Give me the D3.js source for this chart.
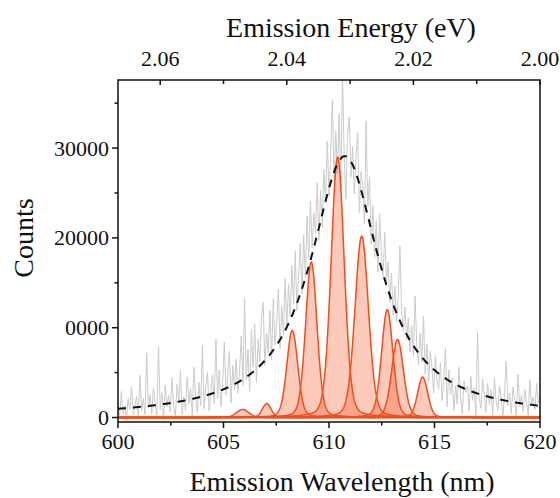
<!DOCTYPE html>
<html>
<head>
<meta charset="utf-8">
<script src="https://cdn.jsdelivr.net/npm/d3@7/dist/d3.min.js"></script>
<style>
  html, body { margin: 0; padding: 0; background: #fff; }
  svg { display: block; }
  text { font-family: "Times New Roman", "Liberation Serif", serif; fill: #111; }
</style>
</head>
<body>
<svg id="chart" width="560" height="498"></svg>
<script>
// Measured spectrum: counts sampled every 0.08 nm from 600 nm to 620 nm
const sampleStart = 600;
const sampleStep = 0.08;
const counts = [
  1600, 200, 2900, 400, 1300, -300, 2100, 900, 3400, 300,
  1200, 2400, 100, 4700, 800, 2100, 300, 7200, 1100, 2600,
  400, 3300, 1500, 200, 7900, 900, 2800, -200, 3600, 1200,
  2500, 600, 4400, 1000, 200, 3700, 1800, 5200, 300, 2300,
  800, 4500, 1500, 3300, 100, 5600, 2200, 600, 3900, 1300,
  8000, 1000, 3400, 5100, 700, 2800, 4800, 1500, 8700, 2100,
  5300, 1200, 3900, 8400, 2500, 4700, 7400, 1600, 5800, 3100,
  6500, 2700, 5100, 9100, 3600, 13300, 4200, 7600, 2900, 9800,
  5600, 10400, 3900, 8700, 6200, 11100, 12800, 5800, 9400, 7200,
  11900, 6400, 13200, 8100, 10600, 14300, 7700, 12400, 9200, 15500,
  10300, 14800, 11200, 16900, 12600, 18500, 11900, 15800, 19400, 13800,
  20300, 15600, 22400, 17800, 24100, 18900, 22800, 20500, 26100, 19700,
  25300, 21200, 27600, 23900, 30800, 24700, 29500, 35400, 26300, 31900,
  27200, 33800, 25600, 38500, 28900, 24300, 31400, 33500, 26800, 30200,
  24900, 29100, 31700, 22800, 27400, 25900, 21600, 33000, 23500, 26800,
  19300, 23600, 17800, 21900, 16200, 22700, 18400, 15700, 20600, 14900,
  17300, 12800, 16100, 11400, 14600, 10700, 13300, 19100, 12000, 9600,
  12300, 8600, 11100, 7300, 10200, 6800, 13500, 8100, 5900, 9400,
  6200, 11300, 4800, 8200, 3900, 7400, 5600, 2700, 6900, 4100,
  3200, 6100, 1900, 4300, 7700, 1200, 5300, 2600, 4400, 800,
  3600, 1500, 5600, 2300, 400, 4100, 2800, 3500, 700, 4600,
  1900, 3300, 200, 9600, 2200, 1000, 4300, 2600, 600, 3800,
  1400, 3100, 200, 4400, 1800, 800, 3500, 2300, -100, 2900,
  6300, 1300, 2700, 400, 3400, 1900, 100, 4800, 1200, 2500,
  600, 3100, 1700, 200, 4200, 1400, 2300, 900, 3800, 1600, 2400
];

// Single Lorentzian envelope fit (dashed)
const envelopeCenter = 610.75;
const envelopeHeight = 29100;
const envelopeHalfWidth = 2.0;

// Individual pseudo-Voigt components of the fine structure
const peakCenters = [605.91, 607.05, 608.26, 609.16, 610.41, 611.55, 612.76, 613.25, 614.44];
const peakHeights = [900, 1550, 9700, 17300, 29000, 20200, 12000, 8700, 4500];
const peakSigmas  = [0.29, 0.21, 0.26, 0.27, 0.31, 0.32, 0.27, 0.28, 0.24];
const lorentzFraction = 0.2;

// Axis ticks
const xTicks = [600, 605, 610, 615, 620];
const xMinorTicks = [602.5, 607.5, 612.5, 617.5];
const yTicks = [0, 10000, 20000, 30000];
const yTickLabels = ["0", "0000", "20000", "30000"];
const yMinorTicks = [5000, 15000, 25000, 35000];
const eTicks = [2.06, 2.04, 2.02, 2.00];
const eMinorTicks = [2.05, 2.03, 2.01];

const xTitle = "Emission Wavelength (nm)";
const yTitle = "Counts";
const topTitle = "Emission Energy (eV)";

const svg = d3.select("#chart");
const margin = { left: 118, right: 20, top: 80, bottom: 76 };
const W = 560, H = 498;
const plotW = W - margin.left - margin.right;
const plotH = H - margin.top - margin.bottom;

const x = d3.scaleLinear().domain([600, 620]).range([margin.left, margin.left + plotW]);
const y = d3.scaleLinear().domain([-500, 37580]).range([margin.top + plotH, margin.top]);
const e = d3.scaleLinear().domain([1240 / 600, 1240 / 620]).range([margin.left, margin.left + plotW]);

svg.append("defs").append("clipPath").attr("id", "plot-clip")
  .append("rect")
  .attr("x", margin.left).attr("y", margin.top)
  .attr("width", plotW).attr("height", plotH);

const plot = svg.append("g").attr("clip-path", "url(#plot-clip)");

// Raw spectrum
const spectrum = counts.map((c, i) => ({ wl: sampleStart + i * sampleStep, c }));
plot.append("path")
  .datum(spectrum)
  .attr("fill", "none")
  .attr("stroke", "#cbcbcb")
  .attr("stroke-width", 1)
  .attr("d", d3.line().x(d => x(d.wl)).y(d => y(d.c)));

// Fitted components
function pseudoVoigt(wl, c, h, s) {
  const g = Math.exp(-((wl - c) ** 2) / (2 * s * s));
  const gamma = 1.1774 * s;
  const l = 1 / (1 + ((wl - c) / gamma) ** 2);
  return h * ((1 - lorentzFraction) * g + lorentzFraction * l);
}
const grid = d3.range(600, 620.0001, 0.02);
const area = d3.area().x(d => x(d[0])).y0(y(0)).y1(d => y(d[1]));
const line = d3.line().x(d => x(d[0])).y(d => y(d[1]));

const comps = peakCenters.map((c, k) =>
  grid.map(wl => [wl, pseudoVoigt(wl, c, peakHeights[k], peakSigmas[k])]));

plot.selectAll("path.fill").data(comps).join("path")
  .attr("class", "fill")
  .attr("fill", "#f4511e")
  .attr("fill-opacity", 0.3)
  .attr("d", area);

plot.selectAll("path.comp").data(comps).join("path")
  .attr("class", "comp")
  .attr("fill", "none")
  .attr("stroke", "#f04e1a")
  .attr("stroke-width", 1.5)
  .attr("d", line);

// Envelope fit
const envelope = grid.map(wl => [wl,
  envelopeHeight / (1 + ((wl - envelopeCenter) / envelopeHalfWidth) ** 2)]);
plot.append("path")
  .datum(envelope)
  .attr("fill", "none")
  .attr("stroke", "#111")
  .attr("stroke-width", 2)
  .attr("stroke-dasharray", "8,7")
  .attr("d", line);

// Frame
svg.append("rect")
  .attr("x", margin.left).attr("y", margin.top)
  .attr("width", plotW).attr("height", plotH)
  .attr("fill", "none").attr("stroke", "#111").attr("stroke-width", 1.5);

const axisG = svg.append("g").attr("stroke", "#111").attr("stroke-width", 1.5);
const yb = margin.top + plotH;

// Bottom ticks (outward)
axisG.selectAll("line.xt").data(xTicks).join("line")
  .attr("x1", d => x(d)).attr("x2", d => x(d)).attr("y1", yb).attr("y2", yb + 6);
axisG.selectAll("line.xm").data(xMinorTicks).join("line")
  .attr("x1", d => x(d)).attr("x2", d => x(d)).attr("y1", yb).attr("y2", yb + 3.5);
// Left ticks (outward)
axisG.selectAll("line.yt").data(yTicks).join("line")
  .attr("x1", margin.left - 6).attr("x2", margin.left).attr("y1", d => y(d)).attr("y2", d => y(d));
axisG.selectAll("line.ym").data(yMinorTicks).join("line")
  .attr("x1", margin.left - 3.5).attr("x2", margin.left).attr("y1", d => y(d)).attr("y2", d => y(d));
// Top ticks (inward)
axisG.selectAll("line.et").data(eTicks).join("line")
  .attr("x1", d => e(d)).attr("x2", d => e(d)).attr("y1", margin.top).attr("y2", margin.top + 5);
axisG.selectAll("line.em").data(eMinorTicks).join("line")
  .attr("x1", d => e(d)).attr("x2", d => e(d)).attr("y1", margin.top).attr("y2", margin.top + 4);

// Tick labels
svg.selectAll("text.xl").data(xTicks).join("text")
  .attr("x", d => x(d)).attr("y", yb + 27)
  .attr("text-anchor", "middle").attr("font-size", 22)
  .text(d => d);
svg.selectAll("text.yl").data(yTicks).join("text")
  .attr("x", margin.left - 9).attr("y", d => y(d) + 7.5)
  .attr("text-anchor", "end").attr("font-size", 22)
  .text((d, i) => yTickLabels[i]);
svg.selectAll("text.el").data(eTicks).join("text")
  .attr("x", d => e(d)).attr("y", margin.top - 14)
  .attr("text-anchor", "middle").attr("font-size", 22)
  .text(d => d3.format(".2f")(d));

// Titles
svg.append("text")
  .attr("x", 342).attr("y", 491)
  .attr("text-anchor", "middle").attr("font-size", 28)
  .text(xTitle);
svg.append("text")
  .attr("x", 351).attr("y", 37)
  .attr("text-anchor", "middle").attr("font-size", 28)
  .text(topTitle);
svg.append("text")
  .attr("transform", "translate(33,238) rotate(-90)")
  .attr("text-anchor", "middle").attr("font-size", 28)
  .text(yTitle);
</script>
</body>
</html>
